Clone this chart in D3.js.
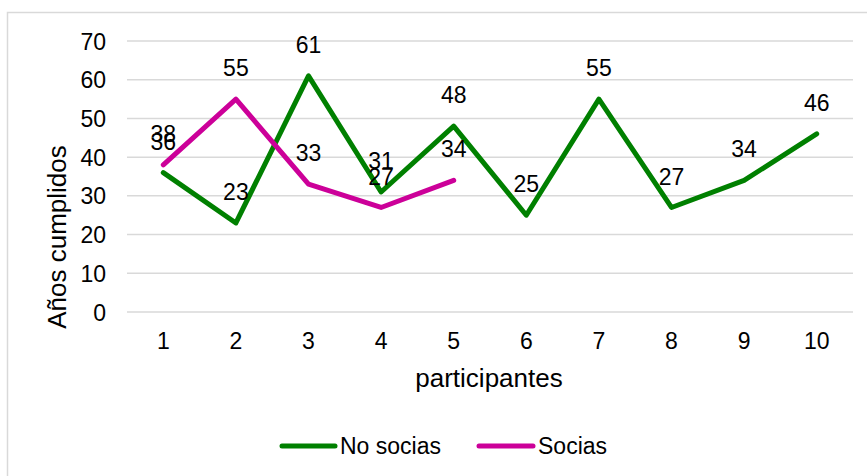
<!DOCTYPE html>
<html><head><meta charset="utf-8">
<script src="https://cdn.jsdelivr.net/npm/d3@7"></script>
<style>body{margin:0;background:#fff}svg{display:block;font-family:"Liberation Sans",Arial,sans-serif}</style>
</head><body>
<svg id="c" width="867" height="476"></svg>
<script>
const categories = [1,2,3,4,5,6,7,8,9,10];
const noSocias = [36,23,61,31,48,25,55,27,34,46];
const socias = [38,55,33,27,34];
const yTicks = [0,10,20,30,40,50,60,70];
const seriesNames = ["No socias","Socias"];
const seriesColors = ["#008000","#CC0099"];

(function(){
const svg = d3.select("#c");
svg.append("rect").attr("x",7.5).attr("y",12.5).attr("width",900).attr("height",500)
  .attr("fill","none").attr("stroke","#d9d9d9").attr("stroke-width",1.5);

const pL=127, pR=853, pT=41, pB=312;
const x = d3.scaleBand().domain(categories).range([pL,pR]);
const y = d3.scaleLinear().domain([0,70]).range([pB,pT]);
const cx = d => x(d)+x.bandwidth()/2;

svg.append("g").selectAll("line").data(yTicks).join("line")
  .attr("x1",pL).attr("x2",pR).attr("y1",d=>y(d)).attr("y2",d=>y(d))
  .attr("stroke","#d9d9d9").attr("stroke-width",1.5);

const yAxis = d3.axisLeft(y).tickValues(yTicks).tickSize(0).tickPadding(0);
const gy = svg.append("g").attr("transform",`translate(106,0)`).call(yAxis);
gy.select(".domain").remove();
gy.selectAll("text").attr("font-size",23).attr("fill","#000").attr("font-family","Liberation Sans, Arial, sans-serif").attr("dy","0.35em");

const xAxis = d3.axisBottom(x).tickSize(0).tickPadding(0);
const gx = svg.append("g").attr("transform",`translate(0,333)`).call(xAxis);
gx.select(".domain").remove();
gx.selectAll("text").attr("font-size",23).attr("fill","#000").attr("font-family","Liberation Sans, Arial, sans-serif").attr("dy","0.71em");

svg.append("text").attr("x",489).attr("y",387).attr("text-anchor","middle")
  .attr("font-size",26).text("participantes");
svg.append("text").attr("transform","translate(57,237) rotate(-90)").attr("text-anchor","middle")
  .attr("dominant-baseline","central").attr("font-size",26).text("Años cumplidos");

const line = d3.line().x(d=>cx(d.c)).y(d=>y(d.v));
const series = [noSocias, socias].map((vals,i)=>({name:seriesNames[i], color:seriesColors[i],
  pts: vals.map((v,j)=>({c:categories[j], v}))}));
svg.append("g").selectAll("path").data(series).join("path")
  .attr("d",s=>line(s.pts)).attr("fill","none").attr("stroke",s=>s.color)
  .attr("stroke-width",5).attr("stroke-linejoin","round").attr("stroke-linecap","round");

series.forEach(s=>{
  svg.append("g").selectAll("text").data(s.pts).join("text")
    .attr("x",d=>cx(d.c)).attr("y",d=>y(d.v)-31).attr("dy","0.35em")
    .attr("text-anchor","middle").attr("font-size",23).attr("fill","#000").text(d=>d.v);
});

const leg = [{x1:282,x2:335,tx:340},{x1:479,x2:533,tx:538}];
series.forEach((s,i)=>{
  svg.append("line").attr("x1",leg[i].x1).attr("x2",leg[i].x2).attr("y1",446).attr("y2",446)
    .attr("stroke",s.color).attr("stroke-width",5).attr("stroke-linecap","round");
  svg.append("text").attr("x",leg[i].tx).attr("y",446).attr("dy","0.35em")
    .attr("font-size",23).text(s.name);
});
})();
</script>
</body></html>
